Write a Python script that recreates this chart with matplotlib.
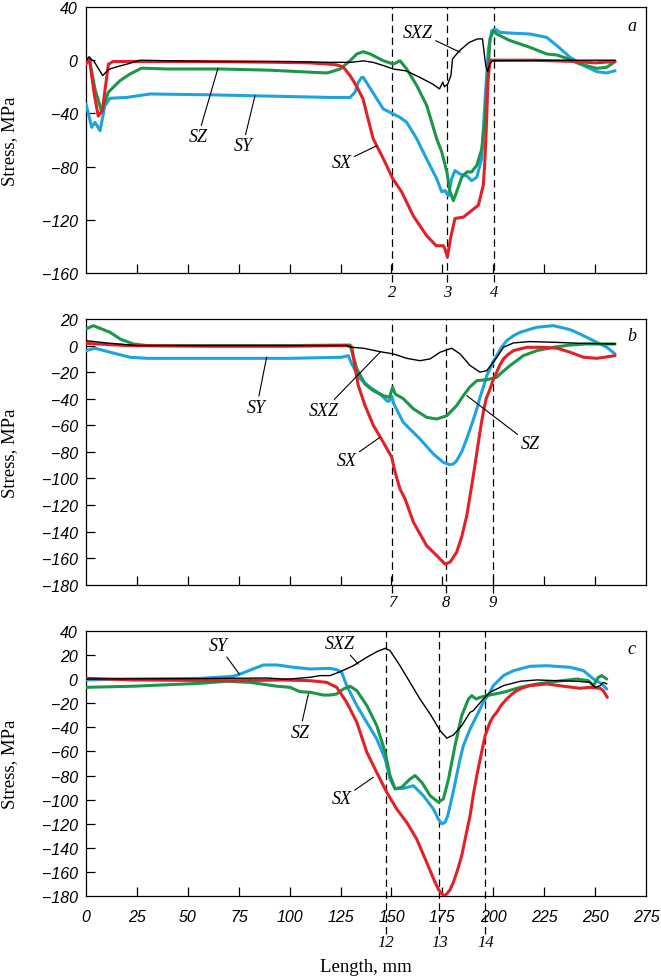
import matplotlib
matplotlib.use("Agg")
import matplotlib.pyplot as plt
from matplotlib.transforms import blended_transform_factory

# ---------------- data ----------------
# Panel a
a_sx_x = [0, 1.6, 4, 6, 8, 11, 13.3, 30, 60, 90, 110, 119.8, 123.1, 126.4, 129.7, 133, 136, 141, 146, 150.6, 155, 160.7, 167.3, 172, 175.5, 176.3, 177.5, 179, 181.2, 185.3, 188.6, 192.7, 195.1, 195.8, 196.5, 197, 197.4, 198.4, 200, 210, 220, 230, 240, 250, 255, 259.8]
a_sx_y = [-3, 1.6, -25, -42, -38, -3, -1, -1, -1, -1.5, -2, -3, -3.5, -5.3, -11.6, -20, -29, -59, -74, -89, -99, -117, -132, -139.5, -139.5, -142, -148, -134, -119, -118, -114, -109, -94, -78, -54, -33, -16, 0, 0, 0, 0, -0.5, -1, -2, -1.5, -1]
a_sy_x = [0, 2.8, 4.4, 6.9, 9.3, 11.8, 20, 31.4, 60, 90, 119.8, 129.7, 132.1, 133.7, 135.4, 136.2, 138.7, 142.8, 146, 151, 154.2, 157.5, 162.4, 167.3, 172.2, 174.7, 176.3, 177.9, 179.6, 181.2, 183.6, 187, 189.4, 191.9, 194.3, 196, 197.6, 199.2, 200.8, 203.2, 208.3, 218, 226.2, 231.2, 237.7, 244.3, 250.8, 255.7, 259.8]
a_sy_y = [-33, -50.5, -46.7, -53, -34, -28.6, -28, -25.4, -26, -27, -28, -28, -24, -16.6, -12.9, -13, -19, -29, -36.7, -40.5, -43, -46.7, -59, -74.3, -89, -99, -98, -102, -89, -83, -85.5, -87, -90.6, -88, -74, -29, 8.4, 22, 23.5, 21, 20.4, 19.7, 17.2, 11, 2.2, -4, -8.6, -9.6, -7.9]
a_sz_x = [0, 1.5, 4.4, 7.7, 11, 16.7, 21.6, 27.3, 40, 65.8, 90, 118, 119.8, 124.8, 129.7, 133, 136.2, 139.5, 146, 151, 154.2, 157.5, 162.4, 167.3, 172.2, 174.7, 177.2, 178.8, 180.4, 182, 184.5, 187, 189.4, 191.9, 194.3, 196, 197.6, 198.4, 200, 201.7, 208.3, 218, 226.2, 231.2, 236.1, 242.6, 250.8, 255.7, 259.8]
a_sz_y = [-2, 2, -21.6, -38.7, -24, -15.4, -10.4, -6, -6.6, -6.6, -7.5, -9.6, -9, -6.6, -0.4, 4.7, 6.4, 4.7, -0.4, -2.9, -0.4, -6.6, -19, -34, -59, -69, -84, -99, -105.6, -99, -88, -84, -84, -79, -67, -42, -4, 16, 22, 19.7, 14.7, 9.7, 4.7, 3.9, 1.4, -2.9, -6.1, -5.3, -1.1]
a_sxz_x = [0, 1.5, 4, 6, 8.2, 11, 15, 20, 26.5, 60, 100, 119, 130, 136.2, 140.9, 146, 150.8, 157.2, 163.8, 170.3, 173.6, 175.2, 176, 177.6, 179.2, 180, 183.3, 188.2, 192.2, 194.7, 195.5, 196.3, 197.3, 198.3, 199.6, 220, 240, 259.8]
a_sxz_y = [0, 2.2, -1, -6, -11.6, -7, -5, -3, 0, -1, -1, -1.6, -1.6, -0.5, -1.6, -4, -6.6, -8, -12.8, -18, -21.6, -16.5, -20, -18, -11.6, 1, 7, 13.4, 16, 16, 6, -4, -8.6, -2.8, -0.4, -0.3, 0, 0]
a_marks = [150.5, 177.5, 200.3]
a_mark_labels = ["2", "3", "4"]

# Panel b
b_sx_x = [0, 20, 60, 100, 128, 130.5, 132.1, 133.7, 137, 141.1, 146, 150.1, 151.8, 154.2, 156.7, 160.8, 167.3, 172.2, 176.3, 178.8, 182, 184.5, 187, 188.6, 190.2, 191.5, 192.7, 194, 195.1, 196.5, 198.4, 200, 201.7, 203.3, 205, 207.5, 209.9, 216.4, 224.6, 231.3, 237.7, 244.3, 250.8, 259.8]
b_sx_y = [1.7, 0, -0.5, -0.5, 0, -1, -16.3, -30, -45, -60, -72.8, -84, -95.4, -108, -115.5, -133, -150.7, -158, -164.5, -163, -155.6, -144, -128, -113, -98, -85, -72.8, -60, -50, -40, -32.7, -25.5, -20, -14.5, -10, -6.5, -3.8, -1.3, -1.3, -2, -5, -8.8, -9.6, -7.6]
b_sy_x = [0, 4.4, 11.8, 21.6, 29.8, 60, 100, 125.6, 128.8, 130.5, 134.6, 139.5, 144.4, 147.7, 148.8, 150.1, 151.2, 155.8, 164, 170.6, 175.5, 178.8, 180.5, 182, 184.5, 187, 189.5, 191.9, 193.5, 195.1, 196.8, 198.4, 200, 201.7, 204, 206.6, 210, 213.2, 221.4, 229.5, 237.7, 242.6, 249.2, 255.8, 259.8]
b_sy_y = [-3.8, -2, -5, -8.8, -9.6, -9.6, -9.6, -8.8, -7.6, -13.9, -25, -31.4, -36.4, -41.5, -42, -38, -44, -57.8, -70.3, -81.6, -88, -89.7, -89, -86.7, -80, -70, -59, -47.7, -39, -31.4, -22.7, -17.5, -12, -7.6, -1.5, 3.7, 7.5, 10, 13.8, 15, 12, 8.7, 3.7, -1.3, -6.3]
b_sz_x = [0, 3.6, 11.8, 16.7, 23.2, 30, 60, 100, 129.7, 133, 137, 141.1, 146, 149, 150.6, 151.8, 155.8, 160.8, 167.3, 172.2, 177.2, 182, 185.3, 188.6, 191.9, 196.8, 201.7, 203.3, 208.3, 214.8, 221.4, 229.5, 237.7, 245.6, 259.8]
b_sz_y = [12.5, 15, 10, 5, 1.2, 0, 0, 0, 0.4, -17.6, -29, -34, -37.7, -39, -31.4, -36.4, -40, -47.7, -54, -55.3, -52.8, -45.2, -37.7, -31, -26.4, -25.7, -23.9, -21.4, -15, -7.6, -3.8, -1.3, 0.4, 1.2, 1.2]
b_sxz_x = [0, 10, 25, 60, 100, 128, 130.5, 136.2, 144.4, 151, 157.5, 164, 169, 173.9, 179.6, 183.7, 188.6, 193.5, 196.8, 201.7, 205, 209.9, 218, 229.5, 242.6, 259.8]
b_sxz_y = [3.7, 2, 0, 0, 0, 0, -1.3, -2, -4.6, -6.3, -9.6, -11.4, -10, -5, -2, -6.3, -15, -20, -18.9, -9, -1.3, 2, 3, 2.5, 1.7, 1.2]
b_marks = [150.4, 176.8, 199.9]
b_mark_labels = ["7", "8", "9"]

# Panel c
c_sx_x = [0, 23.3, 72.3, 96.9, 110, 118.2, 123.1, 128, 133, 137.9, 142.8, 147.7, 152.6, 157.5, 162.4, 167.3, 171.4, 173, 174.7, 176, 177.2, 178.8, 180.4, 182.5, 184.5, 186.5, 188.6, 190.2, 191.9, 194, 196, 198.4, 200, 201.7, 204, 206.6, 209, 211.5, 214.5, 218, 226.2, 234.4, 242.6, 247.5, 252.5, 254, 256]
c_sx_y = [0.6, -0.8, -1.4, -0.8, -1.4, -2.8, -6.9, -19.3, -35.9, -60.7, -77.5, -93.9, -107.7, -118.8, -132.6, -151.9, -168.4, -174, -178, -179.5, -178, -174.5, -168.4, -158, -146.4, -130, -113.3, -96, -80, -63, -47, -35.9, -31, -27.6, -21.5, -16.6, -12.8, -9.7, -7.3, -5.5, -4.1, -6, -7.7, -6.9, -7.7, -9.7, -15.2]
c_sy_x = [0, 20, 56, 72.3, 75.6, 82, 87.1, 93.8, 101.8, 110, 119.8, 123.1, 125.6, 128, 133, 137.9, 142.8, 146.9, 149.3, 151.8, 155.8, 160.8, 165.7, 170.6, 173, 174.7, 176.3, 177.5, 178.8, 180.4, 182, 183.6, 185.3, 188.6, 191.9, 195.1, 198.4, 200, 205, 209.9, 218, 226.2, 237.7, 244.3, 249.2, 253.3, 255.7]
c_sy_y = [-0.8, 0, 0.5, 2.2, 4, 8.3, 11.6, 11.6, 9.7, 8.3, 8.8, 7.7, 5.5, -5.5, -22, -36, -49.7, -66.3, -82.9, -91, -90.6, -88.4, -96.7, -107.7, -116, -120, -118.7, -114, -105, -93, -80, -67, -55.3, -41.4, -30.4, -19.3, -11, -5.5, 2.8, 6.9, 10.5, 11, 9.7, 6.9, 0, -4, -8.3]
c_sz_x = [0, 23.3, 56, 69, 80.6, 93.7, 100.2, 105, 110, 116.6, 120, 123.1, 126.4, 129.7, 133, 137.9, 142.8, 146.9, 149.3, 151.8, 155, 159.1, 161.6, 164.9, 169, 173, 175.5, 178, 181.2, 184.5, 187.8, 189.4, 191.6, 193.5, 196.8, 205, 213.2, 221.4, 231.2, 241, 246.7, 249.2, 251.6, 253.3, 255.7]
c_sz_y = [-6.9, -6, -3.6, -1.9, -2.8, -6, -6.9, -10.5, -11, -13.3, -13.3, -12.4, -8.3, -6, -9.7, -22, -38.7, -60.7, -80, -91, -89.7, -82.9, -80, -85.6, -96.7, -102, -99.4, -83, -55.3, -30.4, -16.6, -13.8, -16.6, -15.2, -13.8, -11, -6.9, -4.1, -1.9, 0, -1.4, -5.5, 1.4, 2.8, 0]
c_sxz_x = [0, 50, 88.7, 96.9, 100.2, 110, 114.9, 119.8, 124.8, 131.3, 137.9, 142.8, 146.9, 149.3, 154.2, 159.1, 164, 169, 173.9, 177.2, 180.4, 184.5, 188.6, 190.2, 195.1, 198.4, 205, 213.2, 221.4, 231.2, 241, 247.5, 250, 252.5, 254, 255.7]
c_sxz_y = [0, 0.3, 0.8, 0, 0, 1.4, 2.8, 2.8, 6, 11, 18, 22.6, 25.4, 23.5, 11, -2.8, -16.6, -29, -42.8, -49, -46.4, -38.7, -27.6, -26.2, -16.6, -11, -5.5, -1.9, -0.8, -1.4, -1.9, -2.8, -6.9, -5.5, -2.8, -4]
c_marks = [147.2, 173.5, 196.1]
c_mark_labels = ["12", "13", "14"]

x_ticks = [0, 25, 50, 75, 100, 125, 150, 175, 200, 225, 250, 275]
a_yticks = [40, 0, -40, -80, -120, -160]
b_yticks = [20, 0, -20, -40, -60, -80, -100, -120, -140, -160, -180]
c_yticks = [40, 20, 0, -20, -40, -60, -80, -100, -120, -140, -160, -180]

# ---------------- style ----------------
RED = "#e32027"
BLUE = "#1fa3e0"
GREEN = "#1c9648"
SERIF = "Liberation Serif"
TICKFONT = dict(family="Liberation Sans", style="italic", size=11.5)

fig = plt.figure(figsize=(6.61, 9.79), dpi=100)
W, H = 661.0, 979.0
L = 86 / W
AW = 560 / W


def make_ax(top_px, bot_px):
    return fig.add_axes([L, 1 - bot_px / H, AW, (bot_px - top_px) / H])


ax_a = make_ax(8, 274)
ax_b = make_ax(320, 585.7)
ax_c = make_ax(631.7, 897.3)


def style(ax, yticks, ylim, show_xlabels):
    ax.set_xlim(0, 275)
    ax.set_ylim(*ylim)
    ax.set_xticks(x_ticks)
    ax.set_yticks(yticks)
    ax.tick_params(direction="in", length=6.5, width=0.9, color="black")
    ax.tick_params(axis="y", pad=6)
    ax.tick_params(axis="x", pad=9)
    ax.set_yticklabels([str(v).replace("-", "\u2212") for v in yticks], **TICKFONT)
    if show_xlabels:
        ax.set_xticklabels([str(v) for v in x_ticks], **TICKFONT)
    else:
        ax.set_xticklabels([])
    for t in ax.xaxis.get_major_ticks():
        if t.get_loc() in (0, 275):
            t.tick1line.set_visible(False)
    for t in ax.yaxis.get_major_ticks():
        if t.get_loc() in ylim:
            t.tick1line.set_visible(False)
    for s in ax.spines.values():
        s.set_linewidth(0.9)


def plot_panel(ax, sy, sz, sx, sxz):
    ax.plot(sy[0], sy[1], color=BLUE, lw=2.2, solid_capstyle="round", solid_joinstyle="round", zorder=3)
    ax.plot(sz[0], sz[1], color=GREEN, lw=2.2, solid_capstyle="round", solid_joinstyle="round", zorder=4)
    ax.plot(sx[0], sx[1], color=RED, lw=2.2, solid_capstyle="round", solid_joinstyle="round", zorder=5)
    ax.plot(sxz[0], sxz[1], color="black", lw=1.0, solid_joinstyle="round", zorder=6)


def marks(ax, xs, labels, ext, label_y):
    tr = blended_transform_factory(ax.transData, ax.transAxes)
    for x, lab in zip(xs, labels):
        ax.axvline(x, ymin=ext, ymax=1, color="black", lw=0.9,
                   dashes=(6, 3.5), clip_on=False, zorder=2)
        ax.text(x, label_y, lab, transform=tr, ha="center", va="center",
                family=SERIF, style="italic", fontsize=12)


def label(ax, text, xy, xytext):
    ax.annotate(text, xy=xy, xytext=xytext, ha="center", va="center",
                family=SERIF, style="italic", fontsize=13,
                arrowprops=dict(arrowstyle="-", lw=0.8, color="black",
                                shrinkA=0, shrinkB=0), zorder=8)


# Panel a
style(ax_a, a_yticks, (-160, 40), False)
plot_panel(ax_a, (a_sy_x, a_sy_y), (a_sz_x, a_sz_y), (a_sx_x, a_sx_y), (a_sxz_x, a_sxz_y))
marks(ax_a, a_marks, a_mark_labels, -0.033, -0.072)
label(ax_a, "SZ", (64.8, -6.1), (55, -57.5))
label(ax_a, "SY", (83, -26.7), (77, -64.5))
label(ax_a, "SX", (142.8, -64.3), (125.5, -77))
label(ax_a, "SXZ", (183.7, 6), (163, 21))
ax_a.text(268, 26, "a", family=SERIF, style="italic", fontsize=13, ha="center", va="center")

# Panel b
style(ax_b, b_yticks, (-180, 20), False)
plot_panel(ax_b, (b_sy_x, b_sy_y), (b_sz_x, b_sz_y), (b_sx_x, b_sx_y), (b_sxz_x, b_sxz_y))
marks(ax_b, b_marks, b_mark_labels, -0.03, -0.066)
label(ax_b, "SY", (88.7, -8.8), (83.8, -46.5))
label(ax_b, "SXZ", (144.4, -5), (116.6, -49))
label(ax_b, "SX", (144.4, -69), (128, -86.7))
label(ax_b, "SZ", (187, -37.7), (218, -74))
ax_b.text(268, 7.5, "b", family=SERIF, style="italic", fontsize=13, ha="center", va="center")

# Panel c
style(ax_c, c_yticks, (-180, 40), True)
plot_panel(ax_c, (c_sy_x, c_sy_y), (c_sz_x, c_sz_y), (c_sx_x, c_sx_y), (c_sxz_x, c_sxz_y))
marks(ax_c, c_marks, c_mark_labels, -0.143, -0.172)
label(ax_c, "SY", (75.3, 4.1), (65, 27.6))
label(ax_c, "SZ", (109.2, -12.4), (105, -44))
label(ax_c, "SXZ", (133.7, 12.4), (124.8, 29))
label(ax_c, "SX", (141.1, -81.4), (125.6, -99.4))
ax_c.text(268, 25, "c", family=SERIF, style="italic", fontsize=13, ha="center", va="center")

# axis labels
for top_px, bot_px in ((8, 274), (320, 585.7), (631.7, 897.3)):
    fig.text(9.5 / W, 1 - (top_px + bot_px) / 2 / H, "Stress, MPa", rotation=90,
             ha="center", va="center", family=SERIF, fontsize=13.5)
fig.text(366 / W, 1 - 968 / H, "Length, mm", ha="center", va="center",
         family=SERIF, fontsize=13.5)

fig.savefig("out.png", dpi=100)
